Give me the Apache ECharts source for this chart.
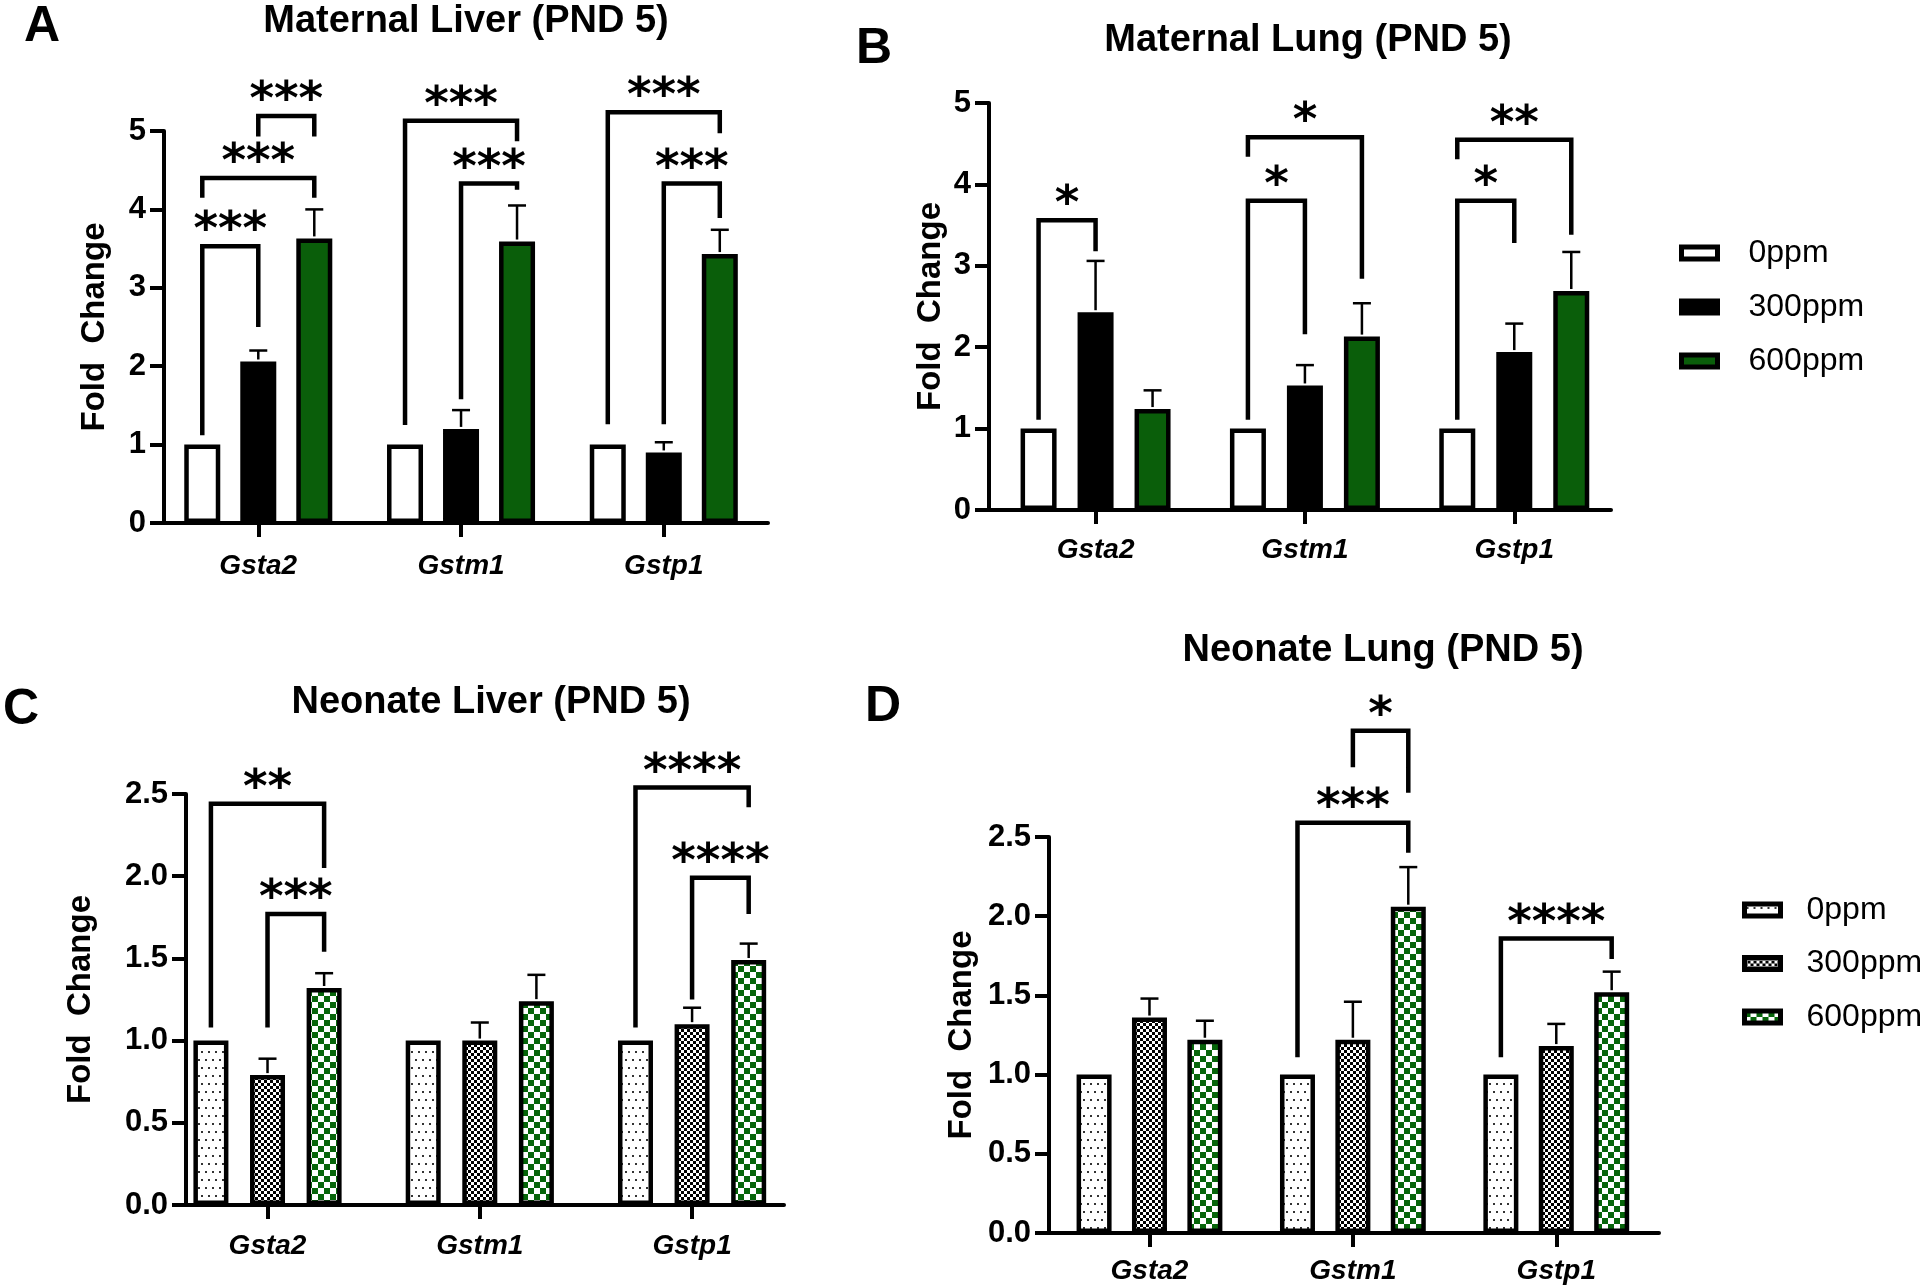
<!DOCTYPE html>
<html>
<head>
<meta charset="utf-8">
<script src="https://cdn.jsdelivr.net/npm/echarts@6/dist/echarts.min.js"></script>
<style>
  html, body { margin: 0; padding: 0; background: #fff; }
  #chart { width: 1920px; height: 1288px; }
</style>
</head>
<body>
<div id="chart"></div>
<script>
// ---------------- data ----------------
const genes = ['Gsta2', 'Gstm1', 'Gstp1'];
const doses = ['0ppm', '300ppm', '600ppm'];

// A: Maternal Liver (PND 5)
const matLiver0 = [1, 1, 1];
const matLiver300 = [2.06, 1.20, 0.90];
const matLiver600 = [3.63, 3.59, 3.43];
const matLiver300Err = [2.20, 1.44, 1.03];   // top of error bar
const matLiver600Err = [4.00, 4.05, 3.74];
// [gene, from dose, to dose, bracket top, left leg end, right leg end]
const matLiverSig = [
  [0, 0, 1, 3.53, 1.12, 2.50],
  [0, 0, 2, 4.40, 4.15, 4.15],
  [0, 1, 2, 5.19, 4.93, 4.93],
  [1, 0, 2, 5.13, 1.25, 4.87],
  [1, 1, 2, 4.33, 1.58, 4.25],
  [2, 0, 2, 5.24, 1.26, 4.97],
  [2, 1, 2, 4.33, 1.26, 3.89]
];
const matLiverStars = ['***', '***', '***', '***', '***', '***', '***'];

// B: Maternal Lung (PND 5)
const matLung0 = [1, 1, 1];
const matLung300 = [2.43, 1.53, 1.94];
const matLung600 = [1.24, 2.13, 2.69];
const matLung300Err = [3.06, 1.78, 2.29];
const matLung600Err = [1.47, 2.54, 3.17];
const matLungSig = [
  [0, 0, 1, 3.56, 1.11, 3.18],
  [1, 0, 1, 3.80, 1.11, 2.16],
  [1, 0, 2, 4.58, 4.34, 2.84],
  [2, 0, 1, 3.80, 1.11, 3.28],
  [2, 0, 2, 4.55, 4.31, 3.38]
];
const matLungStars = ['*', '*', '*', '*', '**'];

// C: Neonate Liver (PND 5)
const neoLiver0 = [1, 1, 1];
const neoLiver300 = [0.79, 1.00, 1.10];
const neoLiver600 = [1.32, 1.24, 1.49];
const neoLiver300Err = [0.89, 1.11, 1.20];
const neoLiver600Err = [1.41, 1.40, 1.59];
const neoLiverSig = [
  [0, 0, 2, 2.44, 1.08, 2.05],
  [0, 1, 2, 1.77, 1.08, 1.54],
  [2, 0, 2, 2.54, 1.08, 2.42],
  [2, 1, 2, 1.99, 1.25, 1.77]
];
const neoLiverStars = ['**', '***', '****', '****'];

// D: Neonate Lung (PND 5)
const neoLung0 = [1, 1, 1];
const neoLung300 = [1.36, 1.22, 1.18];
const neoLung600 = [1.22, 2.06, 1.52];
const neoLung300Err = [1.48, 1.46, 1.32];
const neoLung600Err = [1.34, 2.31, 1.65];
const neoLungSig = [
  [1, 1, 2, 3.17, 2.94, 2.78],
  [1, 0, 2, 2.59, 1.11, 2.40],
  [2, 0, 2, 1.86, 1.11, 1.73]
];
const neoLungStars = ['*', '***', '****'];

// ---------------- styles ----------------
const FONT = '"Liberation Sans", Arial, Helvetica, sans-serif';
const STAR_FONT = 'bold 47px "DejaVu Sans", sans-serif';
const GREEN = '#0a5e0a';

function patternCanvas(w, h, draw) {
  const c = document.createElement('canvas');
  c.width = w; c.height = h;
  draw(c.getContext('2d'));
  return c;
}
const dotPattern = patternCanvas(14, 16, g => {
  g.fillStyle = '#fff'; g.fillRect(0, 0, 14, 16);
  g.fillStyle = '#333';
  [[2, 3], [9, 3], [5, 11], [12, 11]].forEach(p => g.fillRect(p[0], p[1], 2, 2));
});
const fineChecker = patternCanvas(6, 6, g => {
  g.fillStyle = '#fff'; g.fillRect(0, 0, 6, 6);
  g.fillStyle = '#000'; g.fillRect(0, 0, 3, 3); g.fillRect(3, 3, 3, 3);
});
const greenChecker = patternCanvas(12, 12, g => {
  g.fillStyle = '#fff'; g.fillRect(0, 0, 12, 12);
  g.fillStyle = '#07650a'; g.fillRect(0, 0, 6, 6); g.fillRect(6, 6, 6, 6);
});
const solidFills = ['#ffffff', '#000000', GREEN];
const patternFills = [
  { image: dotPattern, repeat: 'repeat' },
  { image: fineChecker, repeat: 'repeat' },
  { image: greenChecker, repeat: 'repeat' }
];

const panels = [
  { key: 'A', grid: { left: 164, top: 131, width: 604, height: 392 }, xMin: -0.465, xMax: 2.514,
    yMax: 5, yInt: 1, dec: 0,
    means: [matLiver0, matLiver300, matLiver600], errs: [null, matLiver300Err, matLiver600Err],
    sig: matLiverSig, stars: matLiverStars, fills: solidFills, barWidth: 36, step: 56, nameGap: 53, labelMargin: 29 },
  { key: 'B', grid: { left: 989, top: 103, width: 622, height: 407 }, xMin: -0.509, xMax: 2.462,
    yMax: 5, yInt: 1, dec: 0,
    means: [matLung0, matLung300, matLung600], errs: [null, matLung300Err, matLung600Err],
    sig: matLungSig, stars: matLungStars, fills: solidFills, barWidth: 36, step: 57, nameGap: 42, labelMargin: 26 },
  { key: 'C', grid: { left: 186, top: 794, width: 598, height: 411 }, xMin: -0.384, xMax: 2.433,
    yMax: 2.5, yInt: 0.5, dec: 1,
    means: [neoLiver0, neoLiver300, neoLiver600], errs: [null, neoLiver300Err, neoLiver600Err],
    sig: neoLiverSig, stars: neoLiverStars, fills: patternFills, barWidth: 35, step: 56.6, nameGap: 89, labelMargin: 27 },
  { key: 'D', grid: { left: 1049, top: 837, width: 610, height: 396 }, xMin: -0.494, xMax: 2.505,
    yMax: 2.5, yInt: 0.5, dec: 1,
    means: [neoLung0, neoLung300, neoLung600], errs: [null, neoLung300Err, neoLung600Err],
    sig: neoLungSig, stars: neoLungStars, fills: patternFills, barWidth: 35, step: 55.4, nameGap: 71, labelMargin: 24 }
];

const geneIdx = genes.map((g, c) => c);
const grids = [], xAxes = [], yAxes = [], series = [];
panels.forEach((p, i) => {
  grids.push(Object.assign({ containLabel: false }, p.grid));
  xAxes.push({
    type: 'value', gridIndex: i, min: p.xMin, max: p.xMax,
    axisLine: { show: true, onZero: false, lineStyle: { color: '#000', width: 4 } },
    axisTick: { show: true, customValues: geneIdx, length: 14, lineStyle: { color: '#000', width: 4 } },
    axisLabel: { show: true, customValues: geneIdx, formatter: v => genes[Math.round(v)],
      color: '#000', fontSize: 28, fontWeight: 'bold', fontStyle: 'italic', fontFamily: FONT, margin: p.labelMargin },
    splitLine: { show: false }
  });
  yAxes.push({
    type: 'value', gridIndex: i, min: 0, max: p.yMax, interval: p.yInt,
    name: 'Fold  Change', nameLocation: 'middle', nameGap: p.nameGap, nameRotate: 90,
    nameTextStyle: { color: '#000', fontSize: 33, fontWeight: 'bold', fontFamily: FONT },
    axisLine: { show: true, onZero: false, lineStyle: { color: '#000', width: 4 } },
    axisTick: { show: true, length: 14, lineStyle: { color: '#000', width: 4 } },
    axisLabel: { color: '#000', fontSize: 31, fontWeight: 'bold', fontFamily: FONT, margin: 18,
      formatter: v => v.toFixed(p.dec) },
    splitLine: { show: false }
  });
  const gapPct = ((p.step - p.barWidth) / p.barWidth * 100).toFixed(1) + '%';
  doses.forEach((d, g) => {
    series.push({
      type: 'bar', name: p.key + '|' + d, xAxisIndex: i, yAxisIndex: i,
      data: p.means[g].map((v, c) => [c, v]), barWidth: p.barWidth, barGap: gapPct,
      itemStyle: { color: p.fills[g], borderColor: '#000', borderWidth: 4.5 },
      silent: true, z: 2
    });
  });
  // error bars
  const errData = [];
  [1, 2].forEach(g => p.errs[g].forEach((top, c) => errData.push([c, g, p.means[g][c], top])));
  series.push({
    type: 'custom', xAxisIndex: i, yAxisIndex: i, data: errData, silent: true, z: 3, clip: false,
    encode: { x: 0, y: 3 },
    renderItem: (params, api) => {
      const c = api.value(0), g = api.value(1);
      const pm = api.coord([c, api.value(2)]);
      const pt = api.coord([c, api.value(3)]);
      const x = pm[0] + (g - 1) * p.step;
      const s = { stroke: '#000', lineWidth: 2.5 };
      return { type: 'group', children: [
        { type: 'line', shape: { x1: x, y1: pm[1] - 2, x2: x, y2: pt[1] }, style: s },
        { type: 'line', shape: { x1: x - 9, y1: pt[1], x2: x + 9, y2: pt[1] }, style: s }
      ] };
    }
  });
  // significance brackets
  series.push({
    type: 'custom', xAxisIndex: i, yAxisIndex: i, data: p.sig, silent: true, z: 4, clip: false,
    encode: { x: 0, y: 3 },
    renderItem: (params, api) => {
      const c = api.value(0), a = api.value(1), b = api.value(2);
      const base = api.coord([c, 0])[0];
      const xa = base + (a - 1) * p.step, xb = base + (b - 1) * p.step;
      const yt = api.coord([c, api.value(3)])[1];
      const yl = api.coord([c, api.value(4)])[1];
      const yr = api.coord([c, api.value(5)])[1];
      return { type: 'group', children: [
        { type: 'polyline', shape: { points: [[xa, yl], [xa, yt], [xb, yt], [xb, yr]] },
          style: { stroke: '#000', lineWidth: 4.5, fill: null, lineJoin: 'miter', lineCap: 'butt' } },
        { type: 'text', x: (xa + xb) / 2, y: yt - 24 + 10,
          style: { text: p.stars[params.dataIndex], font: STAR_FONT, fill: '#000', align: 'center', verticalAlign: 'middle' } }
      ] };
    }
  });
});

const legendBase = {
  orient: 'vertical', icon: 'rect', itemWidth: 36, itemHeight: 12,
  itemStyle: { borderColor: '#000', borderWidth: 5 },
  formatter: n => n.split('|')[1], selectedMode: false
};
function legendText(pad) {
  return { color: '#000', fontSize: 32, fontFamily: FONT, lineHeight: 30, padding: [0, 0, 0, pad] };
}

function txt(x, y, text, font) {
  return { type: 'text', x: x, y: y, silent: true,
    style: { text: text, font: font, fill: '#000', align: 'center', verticalAlign: 'middle' } };
}
const TITLE_FONT = 'bold 38px ' + FONT;
const LETTER_FONT = 'bold 50px ' + FONT;

const option = {
  animation: false,
  backgroundColor: '#ffffff',
  grid: grids, xAxis: xAxes, yAxis: yAxes, series: series,
  legend: [
    Object.assign({}, legendBase, { left: 1674, top: 232, itemGap: 22, textStyle: legendText(26),
      data: doses.map(d => 'B|' + d) }),
    Object.assign({}, legendBase, { left: 1737, top: 889, itemGap: 21.5, textStyle: legendText(21),
      data: doses.map(d => 'D|' + d) })
  ],
  graphic: [
    txt(466, 22, 'Maternal Liver (PND 5)', TITLE_FONT),
    txt(1308, 41, 'Maternal Lung (PND 5)', TITLE_FONT),
    txt(491, 703, 'Neonate Liver (PND 5)', TITLE_FONT),
    txt(1383, 651, 'Neonate Lung (PND 5)', TITLE_FONT),
    txt(42, 27, 'A', LETTER_FONT),
    txt(874, 49, 'B', LETTER_FONT),
    txt(21, 710, 'C', LETTER_FONT),
    txt(883, 707, 'D', LETTER_FONT)
  ]
};

const chart = echarts.init(document.getElementById('chart'), null, { renderer: 'canvas' });
chart.setOption(option);
</script>
</body>
</html>
